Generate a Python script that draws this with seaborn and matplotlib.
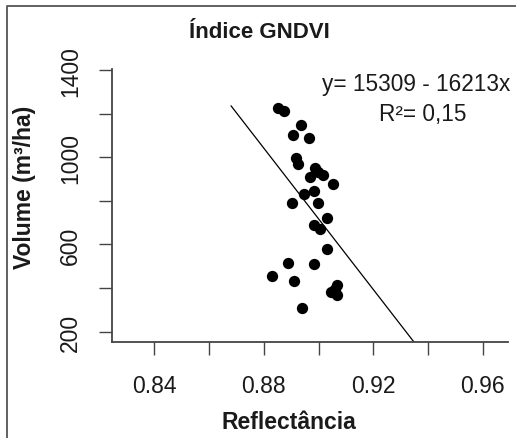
import numpy as np
import pandas as pd
import matplotlib
matplotlib.use("Agg")
import matplotlib.pyplot as plt
from matplotlib.lines import Line2D
import seaborn as sns

# Reflectance (GNDVI) versus stand volume
reflectancia = [0.8853, 0.8875, 0.8935, 0.8907, 0.8965, 0.8916, 0.8923, 0.8986,
                0.8999, 0.8968, 0.9017, 0.9054, 0.8945, 0.8985, 0.8902, 0.8999,
                0.9032, 0.8985, 0.9006, 0.9029, 0.8890, 0.8984, 0.8829, 0.8910,
                0.9069, 0.9045, 0.9067, 0.9060, 0.8940]
volume = [1226, 1212, 1146, 1100, 1088, 995, 969, 949,
          934, 911, 918, 877, 831, 843, 792, 788,
          723, 691, 669, 580, 515, 508, 454, 434,
          415, 382, 366, 395, 308]

# Fitted linear model
intercepto = 15309
inclinacao = -16213
r2_texto = "0,15"
x_ajuste = [0.868, 0.94]

x_ticks = [0.84, 0.86, 0.88, 0.90, 0.92, 0.94, 0.96]
x_ticklabels = ["0.84", "", "0.88", "", "0.92", "", "0.96"]
y_ticks = [200, 400, 600, 800, 1000, 1200, 1400]
y_ticklabels = ["200", "", "600", "", "1000", "", "1400"]

sns.set_theme(style="white")
plt.rcParams["font.family"] = ["Liberation Sans", "DejaVu Sans"]

W, H = 516, 439
fig = plt.figure(figsize=(W / 100, H / 100), dpi=100)
fig.patch.set_facecolor("white")

def fx(px):
    return px / W

def fy(py):
    return 1 - py / H

ax = fig.add_axes([fx(111.7), fy(343.3), fx(507.7) - fx(111.7), fy(70) - fy(343.3)])
ax.set_facecolor("white")

df = pd.DataFrame({"x": reflectancia, "y": volume})
sns.scatterplot(data=df, x="x", y="y", ax=ax, color="black", s=66,
                linewidth=0, zorder=3)

fit = pd.DataFrame({"x": x_ajuste})
fit["y"] = intercepto + inclinacao * fit["x"]
sns.lineplot(data=fit, x="x", y="y", ax=ax, color="black", linewidth=0.9,
             zorder=2)

ax.set_xlim(0.8244, 0.9691)
ax.set_ylim(151, 1405)
ax.set_xticks(x_ticks)
ax.set_xticklabels(x_ticklabels)
ax.set_yticks(y_ticks)
ax.set_yticklabels(y_ticklabels, rotation=90, va="center")
ax.set_xlabel("")
ax.set_ylabel("")

spine_col = "#444444"
for side in ["top", "right"]:
    ax.spines[side].set_visible(False)
for side in ["left", "bottom"]:
    ax.spines[side].set_color(spine_col)
    ax.spines[side].set_linewidth(1.3)

ax.tick_params(axis="both", which="both", direction="out", length=9.5,
               width=1.0, color=spine_col, labelsize=16.5,
               labelcolor="#1a1a1a")
ax.tick_params(axis="x", pad=13, bottom=True)
ax.tick_params(axis="y", pad=12, left=True)

txt = "#1a1a1a"
fig.text(fx(259), fy(32), "Índice GNDVI", ha="center", va="center",
         fontsize=16, fontweight="bold", color=txt)
fig.text(fx(289), fy(423), "Reflectância", ha="center", va="center",
         fontsize=16.5, fontweight="bold", color=txt)
fig.text(fx(25), fy(187), "Volume (m³/ha)", ha="center", va="center",
         rotation=90, fontsize=16.5, fontweight="bold", color=txt)

fig.text(fx(510), fy(84), f"y= {intercepto} - {abs(inclinacao)}x",
         ha="right", va="center", fontsize=16.3, color=txt)
fig.text(fx(423), fy(115), f"R²= {r2_texto}", ha="center", va="center",
         fontsize=16.3, color=txt)

# outer frame along the top and left edges
fig.add_artist(Line2D([fx(6.5), fx(6.5), 1.0], [0.0, fy(6.5), fy(6.5)],
                      transform=fig.transFigure, color="#555555",
                      linewidth=1.3))

fig.savefig("out.png", dpi=100, facecolor="white")
